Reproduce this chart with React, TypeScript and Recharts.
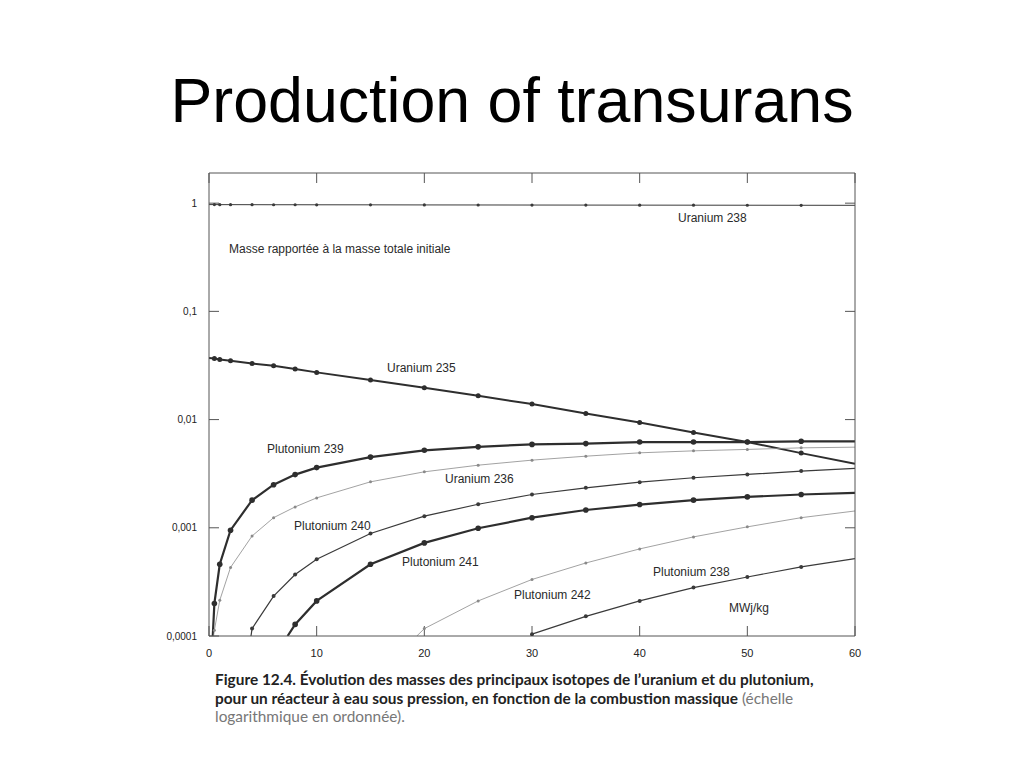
import React from 'react';
import { LineChart, Line, XAxis, YAxis } from 'recharts';

// ---- Axis ticks ----
const burnupTicks = [0, 10, 20, 30, 40, 50, 60];
const massTicks = [0.0001, 0.001, 0.01, 0.1, 1];
const rightMassTicks = [0.001, 0.01, 0.1, 1];

// ---- Series (burnup in MWj/kg, mass relative to initial total mass) ----
const u238Burnup = [0, 0.5, 1, 2, 4, 6, 8, 10, 15, 20, 25, 30, 35, 40, 45, 50, 55, 60];
const u238Mass = [0.97, 0.97, 0.969, 0.969, 0.968, 0.967, 0.967, 0.966, 0.965, 0.963, 0.962, 0.961, 0.96, 0.959, 0.958, 0.957, 0.956, 0.955];

const u235Burnup = [0, 0.5, 1, 2, 4, 6, 8, 10, 15, 20, 25, 30, 35, 40, 45, 50, 55, 60];
const u235Mass = [0.037, 0.0366, 0.0359, 0.0349, 0.033, 0.0314, 0.0294, 0.0273, 0.0232, 0.0197, 0.0166, 0.0139, 0.0114, 0.0094, 0.0076, 0.0062, 0.0049, 0.0039];

const pu239Burnup = [0.35, 0.5, 1, 2, 4, 6, 8, 10, 15, 20, 25, 30, 35, 40, 45, 50, 55, 60];
const pu239Mass = [0.0001, 0.0002, 0.00046, 0.00095, 0.0018, 0.0025, 0.0031, 0.0036, 0.0045, 0.0052, 0.0056, 0.0059, 0.006, 0.0062, 0.0062, 0.0062, 0.0063, 0.0063];

const u236Burnup = [0.42, 0.5, 1, 2, 4, 6, 8, 10, 15, 20, 25, 30, 35, 40, 45, 50, 55, 60];
const u236Mass = [0.0001, 0.000113, 0.000214, 0.00043, 0.00084, 0.00124, 0.00156, 0.00189, 0.00266, 0.00329, 0.00379, 0.00422, 0.00459, 0.00493, 0.00514, 0.0053, 0.00548, 0.00556];

const pu240Burnup = [3.9, 4, 6, 8, 10, 15, 20, 25, 30, 35, 40, 45, 50, 55, 60];
const pu240Mass = [0.0001, 0.000117, 0.000234, 0.00037, 0.000513, 0.000885, 0.00128, 0.00165, 0.00203, 0.00234, 0.00264, 0.0029, 0.00311, 0.00334, 0.00354];

const pu241Burnup = [7.3, 8, 10, 15, 20, 25, 30, 35, 40, 45, 50, 55, 60];
const pu241Mass = [0.0001, 0.000128, 0.000211, 0.00046, 0.000725, 0.00099, 0.00124, 0.00146, 0.00164, 0.0018, 0.00193, 0.00203, 0.0021];

const pu242Burnup = [19.3, 20, 25, 30, 35, 40, 45, 50, 55, 60];
const pu242Mass = [0.0001, 0.000117, 0.000211, 0.000333, 0.000473, 0.000638, 0.000824, 0.00102, 0.00124, 0.00143];

const pu238Burnup = [30, 35, 40, 45, 50, 55, 60];
const pu238Mass = [0.000104, 0.000152, 0.000211, 0.00028, 0.000351, 0.000435, 0.00052];

const zip = (xs: number[], ys: number[]) => xs.map((x, i) => ({ x, y: ys[i] }));

const series = [
  { key: 'u238', data: zip(u238Burnup, u238Mass), color: '#3a3a3a', width: 1, r: 1.6 },
  { key: 'u235', data: zip(u235Burnup, u235Mass), color: '#2e2e2e', width: 2, r: 2.5 },
  { key: 'pu239', data: zip(pu239Burnup, pu239Mass), color: '#2e2e2e', width: 2.2, r: 2.8 },
  { key: 'u236', data: zip(u236Burnup, u236Mass), color: '#8a8a8a', width: 0.8, r: 1.5 },
  { key: 'pu240', data: zip(pu240Burnup, pu240Mass), color: '#3a3a3a', width: 1.2, r: 2 },
  { key: 'pu241', data: zip(pu241Burnup, pu241Mass), color: '#2e2e2e', width: 2.2, r: 2.8 },
  { key: 'pu242', data: zip(pu242Burnup, pu242Mass), color: '#8a8a8a', width: 0.8, r: 1.5 },
  { key: 'pu238', data: zip(pu238Burnup, pu238Mass), color: '#3a3a3a', width: 1.2, r: 2 },
];

const annotations = [
  { text: 'Uranium 238', x: 678, y: 222 },
  { text: 'Masse rapportée à la masse totale initiale', x: 229, y: 253 },
  { text: 'Uranium 235', x: 387, y: 372 },
  { text: 'Plutonium 239', x: 267, y: 453 },
  { text: 'Uranium 236', x: 445, y: 483 },
  { text: 'Plutonium 240', x: 294, y: 530 },
  { text: 'Plutonium 241', x: 402, y: 566 },
  { text: 'Plutonium 238', x: 653, y: 576 },
  { text: 'Plutonium 242', x: 514, y: 599 },
  { text: 'MWj/kg', x: 729, y: 612 },
];

const makeDot = (color: string, r: number) => (props: any) => {
  const { cx, cy, payload, index } = props;
  if (cx == null || cy == null || payload.x === 0 || payload.x === 60 || payload.y <= 0.0001) {
    return <g key={`d-${index}`} />;
  }
  return <circle key={`d-${index}`} cx={cx} cy={cy} r={r} fill={color} stroke="none" />;
};

const fmtMass = (v: number) => String(v).replace('.', ',');
const FONT = '"Liberation Sans", Arial, Helvetica, sans-serif';
const AXIS = '#555';

export default function App() {
  return (
    <div style={{ position: 'absolute', left: 0, top: 0, width: 1024, height: 768, background: '#fff', overflow: 'hidden' }}>
      <div style={{ position: 'absolute', left: 0, top: 0 }}>
        <LineChart width={1024} height={768} margin={{ top: 172, right: 168, bottom: 102, left: 149 }}>
          <XAxis
            xAxisId="b"
            dataKey="x"
            type="number"
            domain={[0, 60]}
            ticks={burnupTicks}
            allowDataOverflow
            orientation="bottom"
            height={30}
            tickSize={-10}
            tickMargin={23}
            axisLine={{ stroke: AXIS, strokeWidth: 1 }}
            tickLine={{ stroke: AXIS, strokeWidth: 1 }}
            tick={{ fill: '#222', fontSize: 11, fontFamily: FONT }}
          />
          <XAxis
            xAxisId="t"
            dataKey="x"
            type="number"
            domain={[0, 60]}
            ticks={burnupTicks}
            allowDataOverflow
            orientation="top"
            height={1}
            tickSize={-10}
            tickMargin={0}
            tickFormatter={() => ''}
            axisLine={{ stroke: AXIS, strokeWidth: 1 }}
            tickLine={{ stroke: AXIS, strokeWidth: 1 }}
          />
          <YAxis
            yAxisId="l"
            type="number"
            scale="log"
            domain={[0.0001, 1.9]}
            ticks={massTicks}
            allowDataOverflow
            orientation="left"
            width={60}
            tickSize={-10}
            tickMargin={22}
            tickFormatter={fmtMass}
            axisLine={{ stroke: AXIS, strokeWidth: 1 }}
            tickLine={{ stroke: AXIS, strokeWidth: 1 }}
            tick={{ fill: '#222', fontSize: 10, fontFamily: FONT }}
          />
          <YAxis
            yAxisId="r"
            type="number"
            scale="log"
            domain={[0.0001, 1.9]}
            ticks={rightMassTicks}
            allowDataOverflow
            orientation="right"
            width={1}
            tickSize={-10}
            tickMargin={0}
            tickFormatter={() => ''}
            axisLine={{ stroke: AXIS, strokeWidth: 1 }}
            tickLine={{ stroke: AXIS, strokeWidth: 1 }}
          />
          {series.map((s) => (
            <Line
              key={s.key}
              xAxisId="b"
              yAxisId="l"
              data={s.data}
              dataKey="y"
              type="linear"
              stroke={s.color}
              strokeWidth={s.width}
              dot={makeDot(s.color, s.r)}
              activeDot={false}
              isAnimationActive={false}
            />
          ))}
          <Line
            key="frame"
            xAxisId="t"
            yAxisId="r"
            data={series[0].data}
            dataKey="y"
            stroke="none"
            dot={false}
            activeDot={false}
            legendType="none"
            isAnimationActive={false}
          />
        </LineChart>
      </div>
      <svg width={1024} height={768} style={{ position: 'absolute', left: 0, top: 0, pointerEvents: 'none' }}>
        <text x={512} y={122} textAnchor="middle" fontFamily={FONT} fontSize={62.7} fill="#000">
          Production of transurans
        </text>
        {annotations.map((a) => (
          <text key={a.text} x={a.x} y={a.y} fontFamily={FONT} fontSize={12} fill="#2a2a2a">
            {a.text}
          </text>
        ))}
        <g fontFamily="Lato, 'Open Sans', sans-serif" fontSize={15.4}>
          <text x={215} y={685} fill="#222" fontWeight="bold">
            Figure 12.4. Évolution des masses des principaux isotopes de l’uranium et du plutonium,
          </text>
          <text x={215} y={704} fill="#222">
            <tspan fontWeight="bold">pour un réacteur à eau sous pression, en fonction de la combustion massique</tspan>
            <tspan fill="#777"> (échelle</tspan>
          </text>
          <text x={215} y={722} fill="#777">
            logarithmique en ordonnée).
          </text>
        </g>
      </svg>
    </div>
  );
}
